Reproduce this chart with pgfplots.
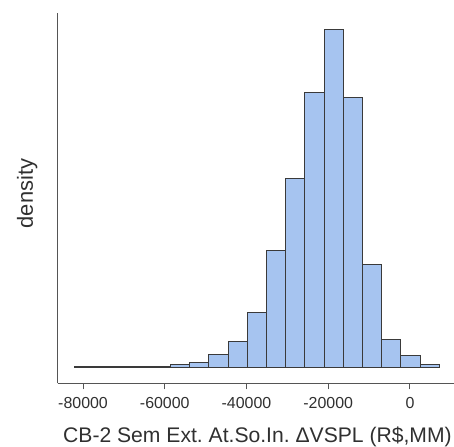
\documentclass[border=0pt]{standalone}
\usepackage{pgfplots}
\pgfplotsset{compat=1.18}
\usepackage{fontspec}
\setmainfont{Liberation Sans}
\frenchspacing
\definecolor{barfill}{HTML}{A6C4F0}
\definecolor{baredge}{HTML}{3A3A3A}
\definecolor{axisgray}{HTML}{555555}
\definecolor{txt}{HTML}{303030}
\begin{document}
\begin{tikzpicture}
\path[use as bounding box] (-57.7bp,-63.7bp) rectangle (396.3bp,383.3bp);
\begin{axis}[
  at={(0,0)}, anchor=south west, 
  scale only axis, width=396.3bp, height=370.3bp,
  xmin=-86200, xmax=10780, ymin=-16.3, ymax=354,
  axis x line*=bottom, axis y line*=left,
  axis line style={axisgray, line width=1.1bp, -},
  xtick={-80000,-60000,-40000,-20000,0}, ytick=\empty,
  tick style={axisgray, line width=1bp},
  xtick align=outside, major tick length=6bp,
  /pgf/number format/assume math mode=true,
  scaled x ticks=false,
  xticklabel style={font=\fontsize{16}{16}\selectfont, text=txt, yshift=-5bp},
  xticklabel={\pgfmathprintnumber[fixed,1000 sep={}]{\tick}},
  xlabel={CB-2 Sem Ext. At.So.In. ΔVSPL (R\$,MM)},
  xlabel style={font=\fontsize{21.2}{21.2}\selectfont, text=txt, at={([xshift=1.6bp,yshift=-59bp]axis description cs:0.5,0)}, anchor=base},
  ylabel={density},
  ylabel style={font=\fontsize{22}{22}\selectfont, text=txt, at={([xshift=-24.7bp,yshift=4.5bp]axis description cs:0,0.5)}, anchor=base},
  clip=false,
]
\addplot[ybar interval, fill=barfill, draw=baredge, line width=1bp] coordinates {
(-82050,0.3) (-77354,0.3) (-72658,0.5) (-67962,0.7) (-63266,1.0)
(-58570,2.7) (-53874,4.7) (-49178,12.3) (-44482,26) (-39786,54.7)
(-35090,116.3) (-30394,188.7) (-25698,274.3) (-21002,337) (-16306,269.7)
(-11610,102) (-6914,27.7) (-2218,11.7) (2478,2.4) (7174,2.4)
};
\end{axis}
\end{tikzpicture}
\end{document}
